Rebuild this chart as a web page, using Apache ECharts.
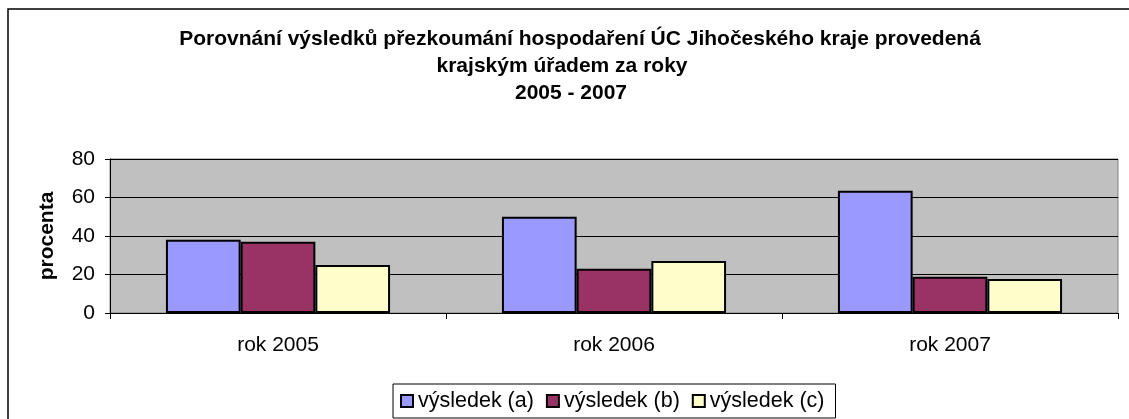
<!DOCTYPE html>
<html>
<head>
<meta charset="utf-8">
<script src="https://cdn.jsdelivr.net/npm/echarts@6/dist/echarts.min.js"></script>
<style>
  html, body { margin: 0; padding: 0; background: #fff; }
  #chart { width: 1129px; height: 419px; }
</style>
</head>
<body>
<div id="chart"></div>
<script>
// chart data
const titleLines = [
  'Porovnání výsledků přezkoumání hospodaření ÚC Jihočeského kraje provedená',
  'krajským úřadem za roky',
  '2005 - 2007',
];
const categories = ['rok 2005', 'rok 2006', 'rok 2007'];
const seriesNames = ['výsledek (a)', 'výsledek (b)', 'výsledek (c)'];
const valuesA = [38, 50, 63.5];
const valuesB = [37, 23, 18.8];
const valuesC = [25, 27, 17.7];
const yMin = 0;
const yMax = 80;
const yStep = 20;
const axisName = 'procenta';

const colors = ['#9999FF', '#993366', '#FFFFCC'];
const font = '"Liberation Sans", Arial, sans-serif';

// each title line is centred a bit differently in the original
const titlePos = [[580, 39], [562, 66], [571, 93]];

const series = [valuesA, valuesB, valuesC].map((data, i) => ({
  name: seriesNames[i],
  type: 'bar',
  barGap: '0%',
  barCategoryGap: '33.3%',
  itemStyle: {
    color: colors[i],
    borderColor: '#000',
    borderWidth: 2,
  },
  data,
}));

const option = {
  animation: false,
  textStyle: { fontFamily: font },
  graphic: [
    {
      // outer chart frame (only left and top edges show)
      type: 'rect',
      shape: { x: 8, y: 9, width: 1200, height: 500 },
      style: { fill: 'none', stroke: '#000', lineWidth: 1.5 },
      silent: true,
    },
    ...titleLines.map((t, i) => ({
      type: 'text',
      x: titlePos[i][0],
      y: titlePos[i][1],
      style: {
        text: t,
        align: 'center',
        verticalAlign: 'middle',
        font: 'bold 21px ' + font,
        fill: '#000',
      },
    })),
  ],
  legend: {
    data: seriesNames,
    left: 393,
    top: 384,
    orient: 'horizontal',
    icon: 'rect',
    itemWidth: 12,
    itemHeight: 12,
    itemGap: 12,
    padding: [6, 11, 6, 7],
    borderColor: '#000',
    borderWidth: 1,
    itemStyle: { borderColor: '#000', borderWidth: 2 },
    textStyle: { fontSize: 21.5, color: '#000', fontFamily: font },
  },
  grid: {
    left: 110,
    right: 11,
    top: 159,
    bottom: 106,
    show: true,
    backgroundColor: '#C0C0C0',
    borderColor: '#808080',
    borderWidth: 1,
  },
  xAxis: {
    type: 'category',
    data: categories,
    axisLine: { lineStyle: { color: '#000', width: 1 } },
    axisTick: { show: true, length: 6, lineStyle: { color: '#000' } },
    axisLabel: { fontSize: 21, color: '#000', margin: 22 },
  },
  yAxis: {
    type: 'value',
    min: yMin,
    max: yMax,
    interval: yStep,
    name: axisName,
    nameLocation: 'middle',
    nameRotate: 90,
    nameGap: 52,
    nameTextStyle: { fontSize: 21, fontWeight: 'bold', color: '#000' },
    axisLine: { show: true, lineStyle: { color: '#000', width: 1 } },
    axisTick: { show: true, length: 5, lineStyle: { color: '#000' } },
    axisLabel: { fontSize: 21, color: '#000', margin: 15 },
    splitLine: { show: true, lineStyle: { color: '#000', width: 1 } },
  },
  series,
};

const myChart = echarts.init(document.getElementById('chart'));
myChart.setOption(option);
</script>
</body>
</html>
